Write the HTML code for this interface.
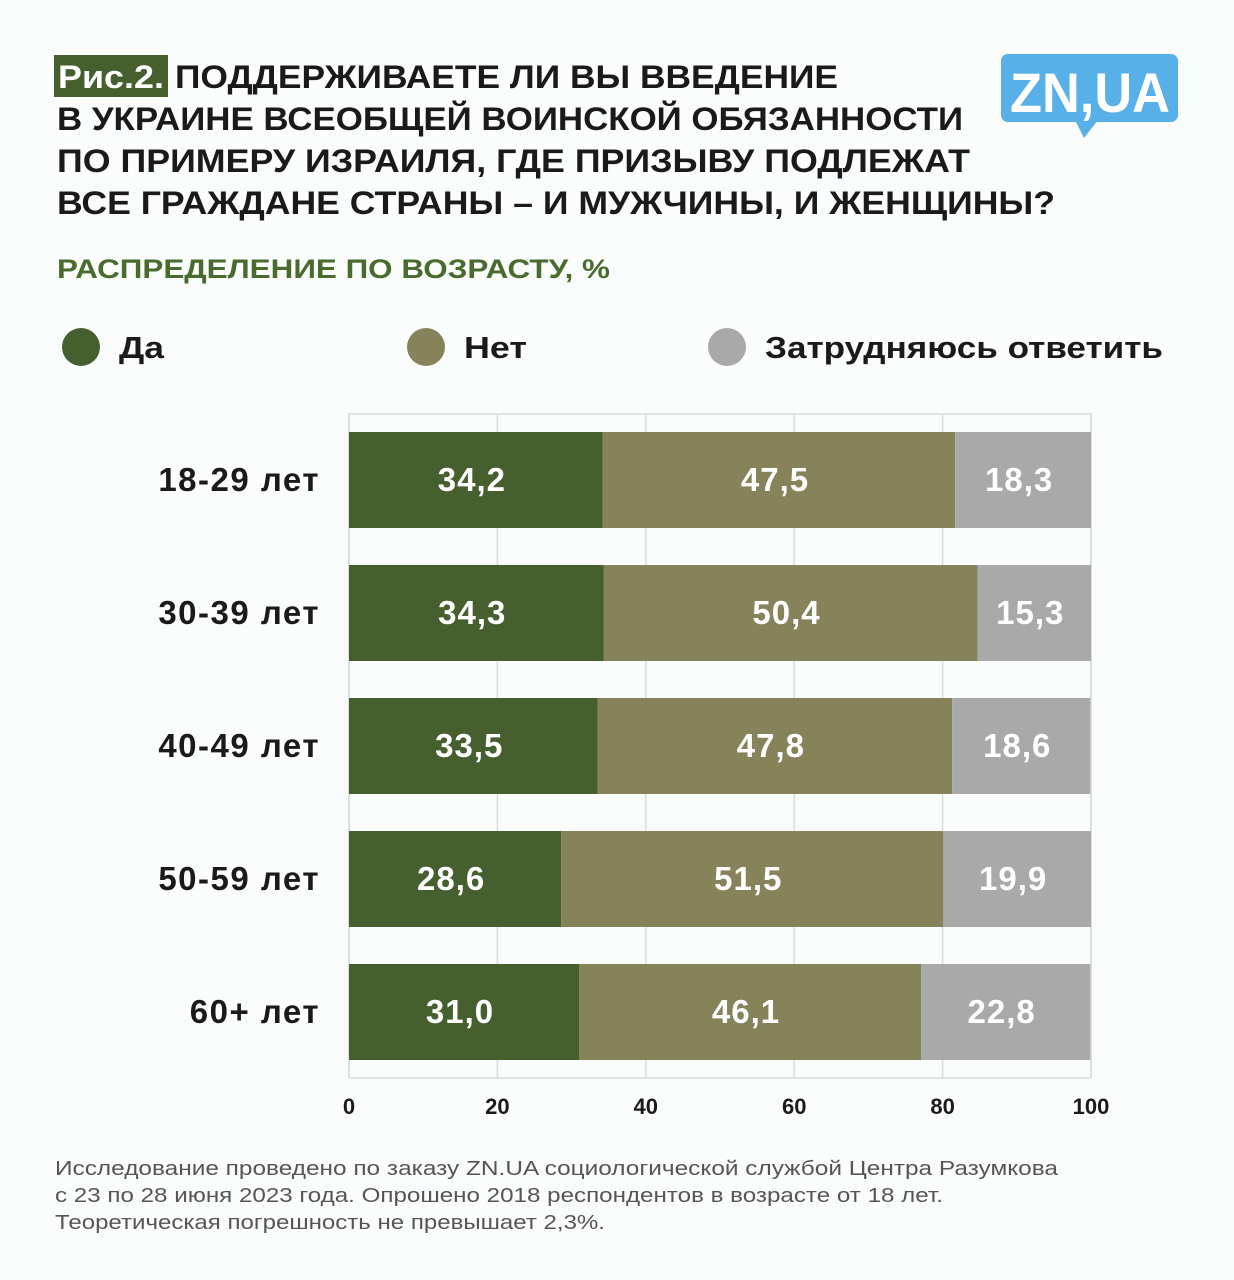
<!DOCTYPE html>
<html><head><meta charset="utf-8"><style>
body{margin:0;background:#fbfdfd;}
svg{display:block;font-family:"Liberation Sans",sans-serif;}
</style></head><body>
<svg id="chart" width="1234" height="1280">
<rect width="1234" height="1280" fill="#fbfdfd"/>
<rect x="54" y="55" width="114" height="42" fill="#465f2e"/>
<g font-size="32" font-weight="bold" fill="#1a1a1a" lengthAdjust="spacingAndGlyphs">
<text x="58" y="88" fill="#fff" textLength="106" lengthAdjust="spacingAndGlyphs">Рис.2.</text>
<text x="175" y="88" textLength="663" lengthAdjust="spacingAndGlyphs">ПОДДЕРЖИВАЕТЕ ЛИ ВЫ ВВЕДЕНИЕ</text>
<text x="57" y="130" textLength="906" lengthAdjust="spacingAndGlyphs">В УКРАИНЕ ВСЕОБЩЕЙ ВОИНСКОЙ ОБЯЗАННОСТИ</text>
<text x="57" y="172" textLength="913" lengthAdjust="spacingAndGlyphs">ПО ПРИМЕРУ ИЗРАИЛЯ, ГДЕ ПРИЗЫВУ ПОДЛЕЖАТ</text>
<text x="57" y="214" textLength="998" lengthAdjust="spacingAndGlyphs">ВСЕ ГРАЖДАНЕ СТРАНЫ – И МУЖЧИНЫ, И ЖЕНЩИНЫ?</text>
</g>
<g>
<rect x="1001" y="54" width="177" height="68" rx="7" fill="#58b0e8"/>
<path d="M1075 120 L1084 138 L1098 120 Z" fill="#58b0e8"/>
<text x="1090" y="112" font-size="56" font-weight="bold" fill="#fff" text-anchor="middle" textLength="160" lengthAdjust="spacingAndGlyphs">ZN,UA</text>
</g>
<text x="57" y="278" font-size="27" font-weight="bold" fill="#4a6b2e" textLength="553" lengthAdjust="spacingAndGlyphs">РАСПРЕДЕЛЕНИЕ ПО ВОЗРАСТУ, %</text>
<g id="legend" font-size="31" font-weight="bold" fill="#1a1a1a"></g>
<g id="plot"></g>
<g font-size="20" fill="#555">
<text x="55" y="1175" textLength="1003" lengthAdjust="spacingAndGlyphs">Исследование проведено по заказу ZN.UA социологической службой Центра Разумкова</text>
<text x="55" y="1202" textLength="888" lengthAdjust="spacingAndGlyphs">с 23 по 28 июня 2023 года. Опрошено 2018 респондентов в возрасте от 18 лет.</text>
<text x="55" y="1229" textLength="550" lengthAdjust="spacingAndGlyphs">Теоретическая погрешность не превышает 2,3%.</text>
</g>
</svg>
<script>
const categories=["18-29 лет","30-39 лет","40-49 лет","50-59 лет","60+ лет"];
const yes=[34.2,34.3,33.5,28.6,31.0];
const no=[47.5,50.4,47.8,51.5,46.1];
const unsure=[18.3,15.3,18.6,19.9,22.8];
const seriesNames=["Да","Нет","Затрудняюсь ответить"];
const ticks=[0,20,40,60,80,100];
const NS="http://www.w3.org/2000/svg";
const colors=["#465f2e","#86835b","#a9a9a9"];
const legendLens=[45,63,398];
const X0=349,X1=1091,TOP=414,BOT=1078;
const x=v=>X0+(X1-X0)*v/100;
const yRow=i=>432+i*133;
const BH=96;
function mk(tag,attrs,parent){const e=document.createElementNS(NS,tag);for(const k in attrs)e.setAttribute(k,attrs[k]);parent.appendChild(e);return e;}
const plot=document.getElementById('plot');
const lg=document.getElementById('legend');
const lx=[81,426,727];
seriesNames.forEach((n,i)=>{
 const g=mk('g',{},lg);
 
 
 mk('circle',{cx:lx[i],cy:347,r:19,fill:colors[i]},g);
 const t=mk('text',{x:lx[i]+38,y:358,textLength:legendLens[i],lengthAdjust:'spacingAndGlyphs'},g);t.textContent=n;
});
const frame=mk('rect',{x:X0,y:TOP,width:X1-X0,height:BOT-TOP,fill:'none',stroke:'#d8dcdc','stroke-width':1.5},plot);


ticks.forEach(t=>{
 const l=mk('line',{x1:x(t),x2:x(t),y1:TOP,y2:BOT,stroke:'#d8dcdc','stroke-width':1.5},plot);
 
 
 const tx=mk('text',{x:x(t),y:1114,'text-anchor':'middle','font-size':22,'font-weight':'bold',fill:'#1a1a1a'},plot);
 
 
 tx.textContent=t;
});
const series=[yes,no,unsure];
categories.forEach((c,i)=>{
 const lab=mk('text',{x:320,y:yRow(i)+BH/2+11,'text-anchor':'end','font-size':33,'font-weight':'bold',fill:'#1a1a1a','letter-spacing':1.5},plot);
 
 
 lab.textContent=c;
 let acc=0;
 series.forEach((s,k)=>{
  const v=s[i];
  const r=mk('rect',{x:x(acc),y:yRow(i),width:x(acc+v)-x(acc),height:BH,fill:colors[k]},plot);
  
  
  const t=mk('text',{x:(x(acc)+x(acc+v))/2-4,y:yRow(i)+BH/2+11,'text-anchor':'middle','font-size':33,'font-weight':'bold',fill:'#fff','letter-spacing':1},plot);
  
  
  t.textContent=v.toFixed(1).replace('.',',');
  acc+=v;
 });
});
</script>
</body></html>
